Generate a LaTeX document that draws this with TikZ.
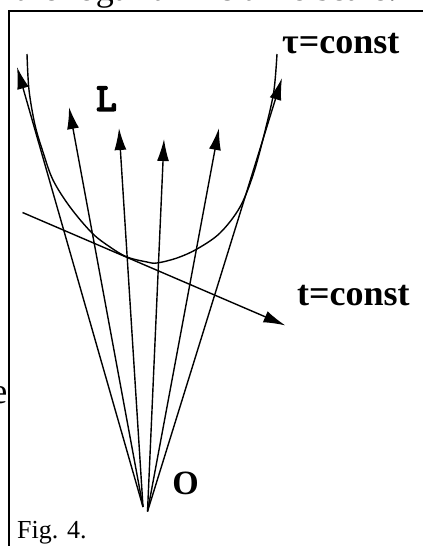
\documentclass[tikz,border=0pt]{standalone}
\usepackage{fontspec}
\setmainfont{Liberation Serif}
\newfontfamily\typebold{lmmonolt10-bold.otf}[FakeBold=3]
\usetikzlibrary{arrows.meta}

\begin{document}
\begin{tikzpicture}[
    x=1pt, y=-1pt,
    >=Latex,
    ray/.style={-{Latex[length=22pt, width=12pt]}, line width=1.4pt},
    curve/.style={line width=1.4pt},
    framewire/.style={line width=2pt},
    biglabel/.style={font=\fontsize{36}{40}\selectfont\bfseries, inner sep=0pt},
    ttlabel/.style={font=\fontsize{40}{44}\selectfont\typebold, inner sep=0pt},
    bodytext/.style={font=\fontsize{36}{40}\selectfont, inner sep=0pt}
]
\useasboundingbox (0,0) rectangle (423,546);
\clip (0,0) rectangle (423,546);

% Page text cut by the crop
\node[bodytext, anchor=base east] (pagetop) at (397,1) {the logarithmic time scale.};
\node[bodytext, anchor=base east] (pageleft) at (7.5,403) {e};

% Figure frame
\draw[framewire] (9,546) -- (9,10.5) -- (423,10.5);

% Origin and ray tips
\coordinate (o1) at (143,507);
\coordinate (o2) at (147.5,511.5);
\coordinate (tip1) at (17,67);
\coordinate (tip2) at (69,107);
\coordinate (tip3) at (119,128);
\coordinate (tip4) at (164,139);
\coordinate (tip5) at (219,128);
\coordinate (tip6) at (282,78);

% Rays from O
\draw[ray] (o1) -- (tip1);
\draw[ray] (o1) -- (tip2);
\draw[ray] (o1) -- (tip3);
\draw[ray] (o2) -- (tip4);
\draw[ray] (o2) -- (tip5);
\draw[ray] (o2) -- (tip6);

% tau = const curve
\draw[curve] plot[smooth, tension=0.55] coordinates {
    (27,54) (29,90) (35,125) (43,152) (53,180) (70,207) (92,233)
    (110,247) (127,257) (147,262) (157,263) (177,258) (197,249)
    (220,233) (240,207) (254,172) (267,123) (274,90) (277,54)};

% t = const line
\coordinate (tline0) at (22.5,212.5);
\coordinate (tline1) at (285.5,325.5);
\draw[ray] (tline0) -- (tline1);

% Labels
\node[biglabel, anchor=base west] (taulabel) at (282,53) {τ=const};
\node[biglabel, anchor=base west] (tlabel) at (297,305) {t=const};
\node[ttlabel] (llabel) at (106.5,98.7) {L};
\node[biglabel, font=\fontsize{34}{38}\selectfont\bfseries] (olabel) at (185.5,483) {O};
\node[font=\fontsize{26}{30}\selectfont, inner sep=0pt, anchor=base west] (figlabel) at (17,538.5) {Fig. 4.};

\end{tikzpicture}
\end{document}
